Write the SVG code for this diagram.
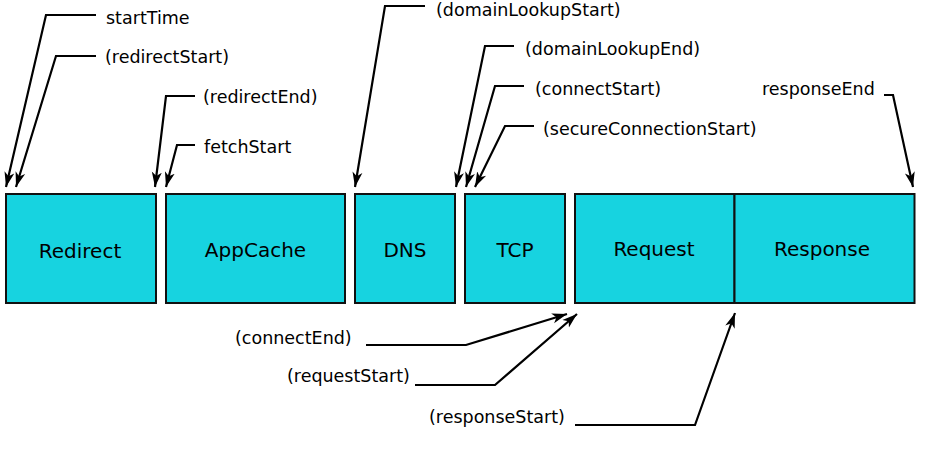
<svg xmlns="http://www.w3.org/2000/svg" width="938" height="454" viewBox="0 0 938 454">
<style>
.box{fill:#17D3E0;stroke:#111;stroke-width:2}
.bl{font-family:"DejaVu Sans","Noto Sans",sans-serif;font-size:20px;fill:#000;text-anchor:middle}
.lb{font-family:"DejaVu Sans","Noto Sans",sans-serif;font-size:17.5px;fill:#000}
.c{fill:none;stroke:#000;stroke-width:2.2;marker-end:url(#ah)}
</style>
<defs>
<marker id="ah" markerUnits="userSpaceOnUse" markerWidth="16" markerHeight="12" refX="15" refY="6" orient="auto">
<path d="M0,1 L15,6 L0,11 L4,6 z" fill="#000"/>
</marker>
</defs>
<rect width="938" height="454" fill="#fff"/>
<g id="redirect"><rect class="box" x="6" y="194" width="150" height="109"/><text class="bl" x="80" y="258">Redirect</text></g>
<g id="appcache"><rect class="box" x="166" y="194" width="179" height="109"/><text class="bl" x="255.5" y="257">AppCache</text></g>
<g id="dns"><rect class="box" x="355" y="194" width="100" height="109"/><text class="bl" x="405" y="257">DNS</text></g>
<g id="tcp"><rect class="box" x="465" y="194" width="100" height="109"/><text class="bl" x="515" y="257">TCP</text></g>
<g id="request"><rect class="box" x="575" y="194" width="159.5" height="109"/><text class="bl" x="654" y="256">Request</text></g>
<g id="response"><rect class="box" x="734.5" y="194" width="180" height="109"/><text class="bl" x="822" y="256">Response</text></g>
<g id="labels">
<text class="lb" x="106" y="24">startTime</text>
<text class="lb" x="105" y="63">(redirectStart)</text>
<text class="lb" x="203" y="103">(redirectEnd)</text>
<text class="lb" x="204" y="153">fetchStart</text>
<text class="lb" x="436" y="15.5">(domainLookupStart)</text>
<text class="lb" x="525" y="55">(domainLookupEnd)</text>
<text class="lb" x="535" y="95">(connectStart)</text>
<text class="lb" x="543" y="134.5">(secureConnectionStart)</text>
<text class="lb" x="762" y="95">responseEnd</text>
<text class="lb" x="235" y="344">(connectEnd)</text>
<text class="lb" x="287" y="382">(requestStart)</text>
<text class="lb" x="429" y="423">(responseStart)</text>
</g>
<g id="connectors">
<path class="c" d="M96,15 H46 L6,187"/>
<path class="c" d="M96,56 H56 L16,187"/>
<path class="c" d="M195,96 H166 L155,187"/>
<path class="c" d="M195,145 H177 L166,187"/>
<path class="c" d="M425,6 H385 L355,187"/>
<path class="c" d="M514,46 H485 L456,187"/>
<path class="c" d="M524,86 H495 L466,187"/>
<path class="c" d="M534,126 H505 L475,187"/>
<path class="c" d="M884,95 H893 L913,187"/>
<path class="c" d="M366,345 H466 L567,314"/>
<path class="c" d="M415,385 H495 L577,314"/>
<path class="c" d="M575,425 H695 L735,313"/>
</g>
</svg>
